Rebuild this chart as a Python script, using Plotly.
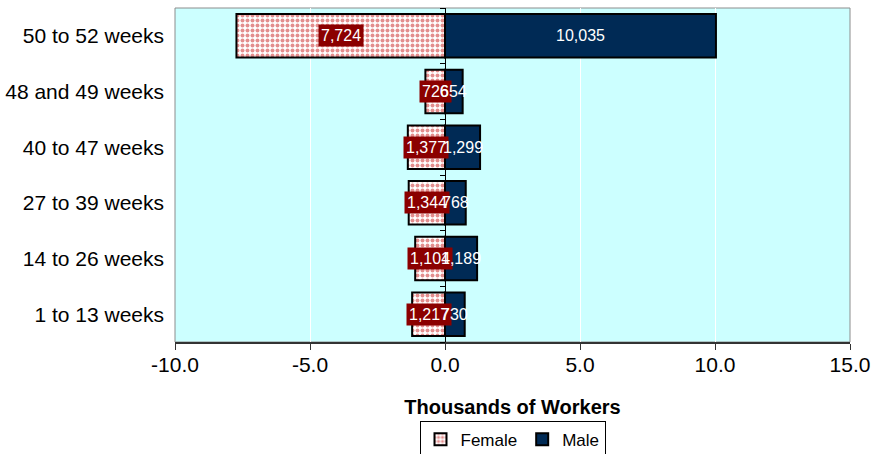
import plotly.graph_objects as go

categories = ["1 to 13 weeks", "14 to 26 weeks", "27 to 39 weeks",
              "40 to 47 weeks", "48 and 49 weeks", "50 to 52 weeks"]
female = [1.217, 1.104, 1.344, 1.377, 0.726, 7.724]
male = [0.730, 1.189, 0.768, 1.299, 0.654, 10.035]
x_ticks = [-10, -5, 0, 5, 10, 15]

FONT = "Liberation Sans, Arial, sans-serif"

fig = go.Figure()
fig.add_trace(go.Bar(
    y=categories, x=[-v for v in female], orientation="h", name="Female",
    marker=dict(color="white", line=dict(color="black", width=2),
                pattern=dict(shape=".", fgcolor="#c81e1e", bgcolor="white",
                             size=5, solidity=0.5)),
    hoverinfo="skip",
))
fig.add_trace(go.Bar(
    y=categories, x=male, orientation="h", name="Male",
    marker=dict(color="#002a55", line=dict(color="black", width=2)),
    hoverinfo="skip",
))
# invisible trace to carry the category axis drawn at x = 0
fig.add_trace(go.Scatter(
    y=categories, x=[0] * len(categories), yaxis="y2", mode="markers",
    marker=dict(opacity=0), showlegend=False, hoverinfo="skip",
))

annotations = []
for c, v in zip(categories, female):
    annotations.append(dict(
        x=-v / 2, y=c, xref="x", yref="y", text=f"{int(round(v * 1000)):,}",
        showarrow=False, font=dict(family=FONT, size=16, color="white"),
        bgcolor="#8b0000", borderpad=2,
    ))
for c, v in zip(categories, male):
    annotations.append(dict(
        x=v / 2, y=c, xref="x", yref="y", text=f"{int(round(v * 1000)):,}",
        showarrow=False, font=dict(family=FONT, size=16, color="white"),
    ))

fig.update_layout(
    width=888, height=454,
    margin=dict(l=175, r=38, t=8, b=112, autoexpand=False),
    paper_bgcolor="white", plot_bgcolor="#ccffff",
    barmode="relative", bargap=0.22,
    font=dict(family=FONT, color="black"),
    showlegend=True,
    legend=dict(orientation="h", x=0.5, xanchor="center", y=-0.236, yanchor="top",
                bordercolor="black", borderwidth=1,
                font=dict(family=FONT, size=17, color="black"),
                itemwidth=30, tracegroupgap=0),
    annotations=annotations,
    xaxis=dict(range=[-10, 15], tickvals=x_ticks,
               ticktext=[f"{t:.1f}" for t in x_ticks],
               showgrid=True, gridcolor="white", gridwidth=1,
               zeroline=False, showline=True, linecolor="#333333", linewidth=2,
               ticks="outside", ticklen=6, tickcolor="#333333",
               ticklabelstandoff=-3, automargin=False,
               tickfont=dict(family=FONT, size=21),
               title=dict(text="<b>Thousands of Workers</b>", standoff=25,
                          font=dict(family=FONT, size=20))),
    yaxis=dict(type="category", categoryarray=categories, range=[-0.5, 5.5],
               showgrid=False, zeroline=False, showline=False, ticks="",
               automargin=False,
               tickfont=dict(family=FONT, size=21), ticklabelstandoff=10),
    yaxis2=dict(type="category", categoryarray=categories, range=[-0.5, 5.5],
                overlaying="y", anchor="free", position=0.4, side="left",
                showline=True, linecolor="black", linewidth=1,
                ticks="outside", ticklen=5, tickcolor="black", automargin=False,
                tickson="boundaries", showticklabels=False, showgrid=False,
                zeroline=False),
    shapes=[dict(type="rect", xref="paper", yref="paper", x0=0, x1=1, y0=0, y1=1,
                 line=dict(color="#8c8c8c", width=1), layer="below")],
)

fig.write_html("out.html", config={"displayModeBar": False},
               post_script="document.body.style.margin='0';document.body.style.overflow='hidden';")
